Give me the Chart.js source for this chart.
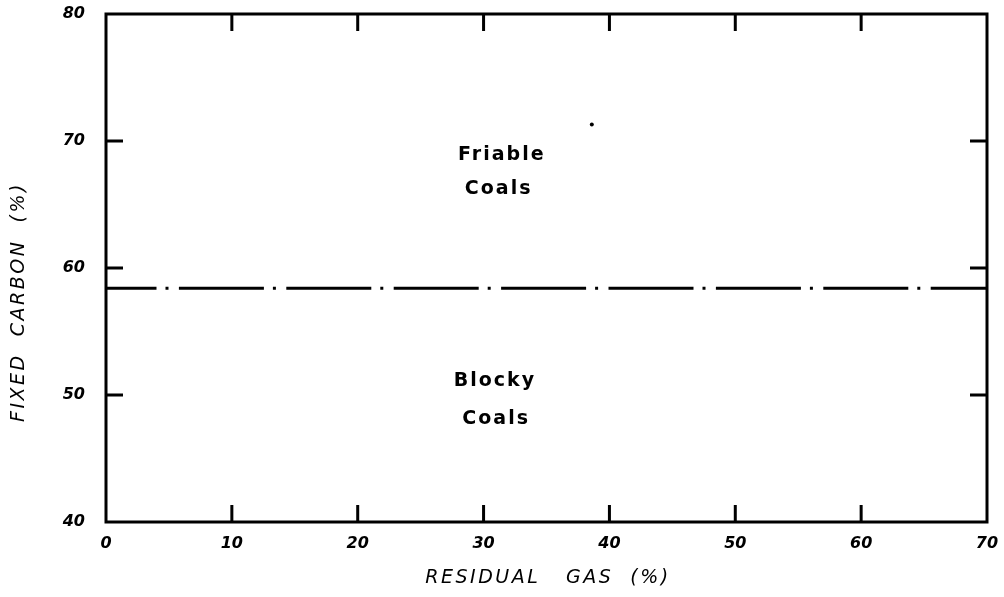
<!DOCTYPE html>
<html>
<head>
<meta charset="utf-8">
<script src="https://cdn.jsdelivr.net/npm/chart.js@4.4.1/dist/chart.umd.min.js"></script>
<style>
  body { margin: 0; background: #fff; }
  #wrap { width: 1004px; height: 597px; position: relative; }
</style>
</head>
<body>
<div id="wrap"><canvas id="coalChart"></canvas></div>
<script>
// axis ranges and ticks
const gasTicks = [0, 10, 20, 30, 40, 50, 60, 70];
const carbonTicks = [40, 50, 60, 70, 80];

// friable / blocky boundary
const boundaryGas = [0, 70];
const boundaryCarbon = [58.4, 58.4];

// stray plotted point
const strayGas = [38.6];
const strayCarbon = [71.3];

// region labels
const regionLines = [['Friable', 'Coals'], ['Blocky', 'Coals']];

const INK = '#000';
const FAMILY = '"DejaVu Sans", "Liberation Sans", sans-serif';
const labelFont = 'bold 19px ' + FAMILY;
const titleFont = 'oblique 19px ' + FAMILY;

// where the region words sit (data coords, one per line)
const regionAnchors = [
  [[31.45, 68.9], [31.2, 66.2]],
  [[30.9, 51.1], [31.0, 48.1]]
];

const framePlugin = {
  id: 'frame',
  afterDatasetsDraw(chart) {
    const { ctx, chartArea: a, scales } = chart;
    const x = scales.x, y = scales.y;
    ctx.save();
    ctx.strokeStyle = INK;
    ctx.lineWidth = 3;
    ctx.lineCap = 'square';
    ctx.strokeRect(a.left, a.top, a.right - a.left, a.bottom - a.top);

    // inward tick marks on all four sides
    const len = 17;
    ctx.lineCap = 'butt';
    gasTicks.slice(1, -1).forEach(v => {
      const px = x.getPixelForValue(v);
      ctx.beginPath();
      ctx.moveTo(px, a.bottom); ctx.lineTo(px, a.bottom - len);
      ctx.moveTo(px, a.top); ctx.lineTo(px, a.top + len);
      ctx.stroke();
    });
    carbonTicks.slice(1, -1).forEach(v => {
      const py = y.getPixelForValue(v);
      ctx.beginPath();
      ctx.moveTo(a.left, py); ctx.lineTo(a.left + len, py);
      ctx.moveTo(a.right, py); ctx.lineTo(a.right - len, py);
      ctx.stroke();
    });

    // region words
    ctx.fillStyle = INK;
    ctx.font = labelFont;
    ctx.letterSpacing = '2px';
    ctx.textAlign = 'center';
    ctx.textBaseline = 'middle';
    regionLines.forEach((lines, i) => {
      lines.forEach((word, j) => {
        const [gx, cy] = regionAnchors[i][j];
        ctx.fillText(word, x.getPixelForValue(gx), y.getPixelForValue(cy));
      });
    });

    // axis titles
    ctx.font = titleFont;
    ctx.letterSpacing = '2.5px';
    ctx.fillText('RESIDUAL   GAS  (%)', 548, 578);
    ctx.translate(19, 302);
    ctx.rotate(-Math.PI / 2);
    ctx.fillText('FIXED  CARBON  (%)', 0, 0);
    ctx.restore();
  }
};

const tickFont = { family: FAMILY, size: 16, style: 'oblique', weight: 'bold' };

new Chart(document.getElementById('coalChart'), {
  type: 'scatter',
  data: {
    datasets: [
      {
        type: 'line',
        data: boundaryGas.map((g, i) => ({ x: g, y: boundaryCarbon[i] })),
        borderColor: INK,
        borderWidth: 3,
        borderDash: [85, 9, 3, 10.4],
        borderDashOffset: 34.5,
        pointRadius: 0,
        fill: false
      },
      {
        data: strayGas.map((g, i) => ({ x: g, y: strayCarbon[i] })),
        backgroundColor: INK,
        borderColor: INK,
        pointRadius: 2,
        borderWidth: 0
      }
    ]
  },
  options: {
    responsive: true,
    maintainAspectRatio: false,
    animation: false,
    layout: { padding: { top: 14, right: 17, bottom: 0, left: 0 } },
    plugins: { legend: { display: false }, tooltip: { enabled: false } },
    scales: {
      x: {
        type: 'linear',
        min: gasTicks[0],
        max: gasTicks[gasTicks.length - 1],
        afterBuildTicks(s) { s.ticks = gasTicks.map(v => ({ value: v })); },
        afterFit(s) { s.height = 75; s.paddingLeft = 0; s.paddingRight = 0; },
        grid: { display: false, drawTicks: false },
        border: { display: false },
        ticks: { color: INK, font: tickFont, padding: 12, maxRotation: 0 }
      },
      y: {
        type: 'linear',
        min: carbonTicks[0],
        max: carbonTicks[carbonTicks.length - 1],
        afterBuildTicks(s) { s.ticks = carbonTicks.map(v => ({ value: v })); },
        afterFit(s) { s.width = 106; s.paddingTop = 0; s.paddingBottom = 0; },
        grid: { display: false, drawTicks: false },
        border: { display: false },
        ticks: { color: INK, font: tickFont, padding: 21 }
      }
    }
  },
  plugins: [framePlugin]
});
</script>
</body>
</html>
